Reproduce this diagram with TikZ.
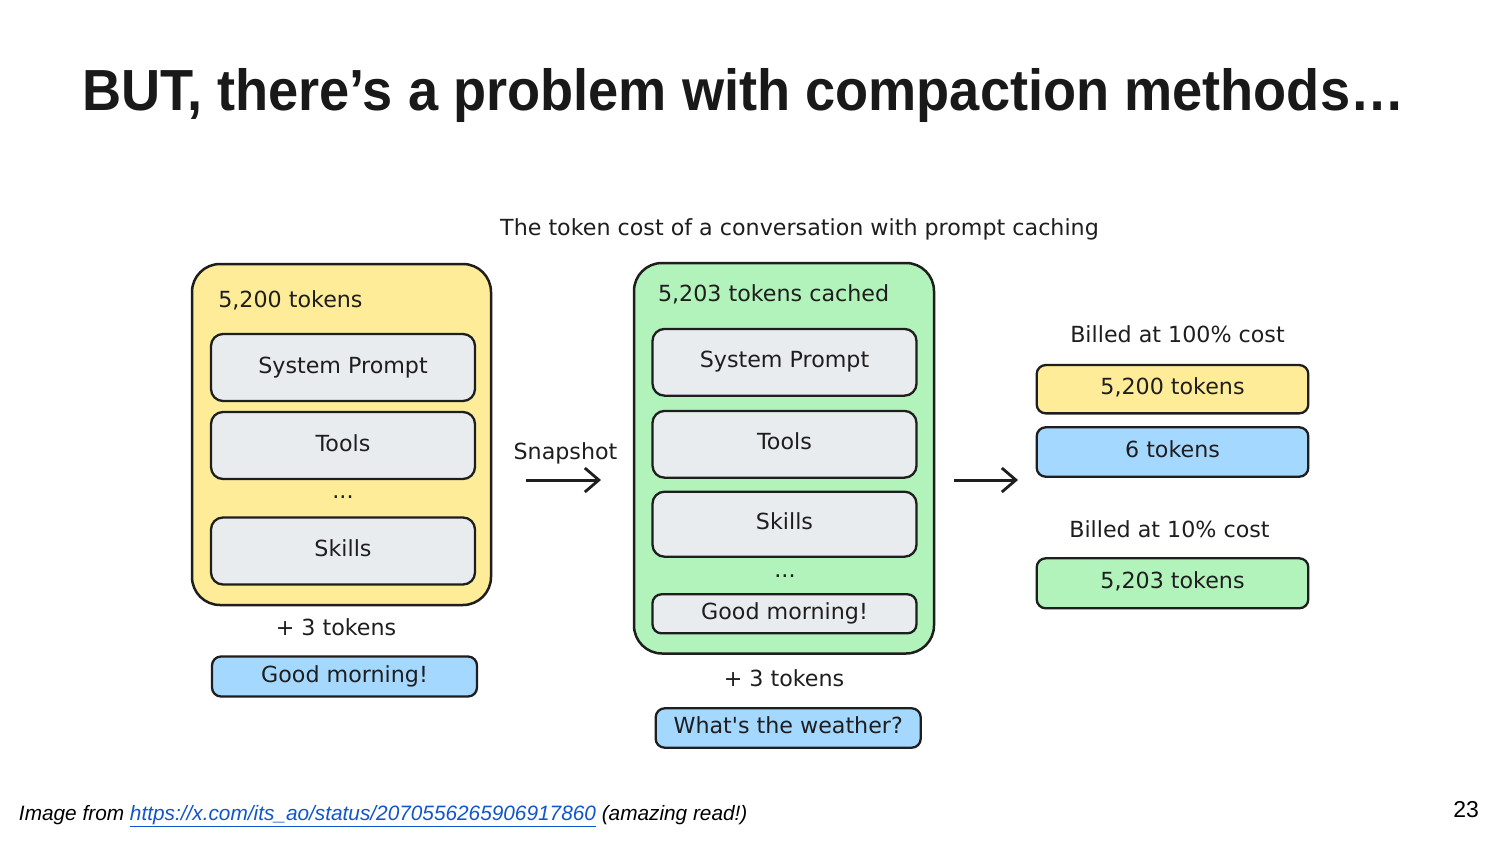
\documentclass[tikz,border=0pt]{standalone}
\usepackage{fontspec}
\setmainfont{DejaVu Sans}
\newfontfamily\rawfont{DejaVu Sans}
\newfontfamily\titlefont[FakeStretch=0.934]{Liberation Sans}
\newfontfamily\footfont{Liberation Sans}
\usetikzlibrary{arrows.meta}
\definecolor{ink}{HTML}{1E1E1E}
\definecolor{yel}{HTML}{FFEC99}
\definecolor{grn}{HTML}{B2F2BB}
\definecolor{blu}{HTML}{A5D8FF}
\definecolor{gry}{HTML}{E9ECEF}
\definecolor{linkblue}{HTML}{1155CC}
\begin{document}
\begin{tikzpicture}[x=1pt,y=-1pt,
  every node/.style={inner sep=0pt, outer sep=0pt, text=ink},
  dfont/.style={font=\fontsize{22.2}{26}\selectfont},
  outerbox/.style={draw=ink, line width=2.5pt, rounded corners=28pt},
  card/.style={draw=ink, line width=2.3pt, rounded corners=12pt, dfont,
               text height=16pt, text depth=5pt, align=center},
  pill/.style={card, rounded corners=9pt},
  lbl/.style={dfont, anchor=base},
  arr/.style={draw=ink, line width=3pt,
              -{Straight Barb[length=14pt,width=24pt,line width=2.8pt]}}
]
\useasboundingbox (0,0) rectangle (1500,844);
\fill[white] (0,0) rectangle (1500,844);

% title
\node[anchor=base west, text=black!90, font=\titlefont\bfseries\fontsize{58}{64}\selectfont]
  (title) at (82,110) {BUT, there’s a problem with compaction methods…};

% subtitle
\node[lbl] (sub) at (799.5,235) {The token cost of a conversation with prompt caching};

% ---------- left (yellow) ----------
\node[outerbox, fill=yel, minimum width=299pt, minimum height=341pt] (Y) at (341.5,434.5) {};
\node[lbl, anchor=base west] (Ylbl) at (218.3,307.3) {5,200 tokens};
\node[card, fill=gry, minimum width=264pt, minimum height=67pt] (Ysp) at (343,367.5) {System Prompt};
\node[card, fill=gry, minimum width=264pt, minimum height=67pt] (Ytools) at (343,445.5) {Tools};
\node[lbl] (Ydots) at (343,498) {...};
\node[card, fill=gry, minimum width=264pt, minimum height=67pt] (Yskills) at (343,551) {Skills};
\node[lbl] (Yplus) at (336,635) {+ 3 tokens};
\node[pill, fill=blu, minimum width=265pt, minimum height=40pt] (Ygm) at (344.5,676.5) {Good morning!};

% snapshot arrow
\node[lbl] (snap) at (565.5,459) {Snapshot};
\coordinate (a1s) at (526,480);
\coordinate (a1e) at (601,480);
\draw[arr] (a1s) -- (a1e);

% ---------- middle (green) ----------
\node[outerbox, fill=grn, minimum width=300pt, minimum height=390.5pt] (G) at (784,458.25) {};
\node[lbl, anchor=base west] (Glbl) at (658,301.7) {5,203 tokens cached};
\node[card, fill=gry, minimum width=264pt, minimum height=66.7pt] (Gsp) at (784.5,362.3) {System Prompt};
\node[card, fill=gry, minimum width=264pt, minimum height=66.7pt] (Gtools) at (784.5,444.3) {Tools};
\node[card, fill=gry, minimum width=264pt, minimum height=65pt] (Gskills) at (784.5,524.2) {Skills};
\node[lbl] (Gdots) at (785,577) {...};
\node[pill, fill=gry, minimum width=264pt, minimum height=39pt] (Ggm) at (784.5,613.8) {Good morning!};
\node[lbl] (Gplus) at (784,686.7) {+ 3 tokens};
\node[pill, fill=blu, minimum width=265pt, minimum height=39.4pt] (Gw) at (788.2,728) {What{\rawfont '}s the weather?};

% second arrow
\coordinate (a2s) at (954,480);
\coordinate (a2e) at (1018,480);
\draw[arr] (a2s) -- (a2e);

% ---------- right (billing) ----------
\node[lbl] (b100) at (1177.5,342.3) {Billed at 100\% cost};
\node[pill, fill=yel, minimum width=271.6pt, minimum height=48.3pt] (R1) at (1172.5,389.2) {5,200 tokens};
\node[pill, fill=blu, minimum width=271.6pt, minimum height=49.4pt] (R2) at (1172.5,452) {6 tokens};
\node[lbl] (b10) at (1169.5,537.3) {Billed at 10\% cost};
\node[pill, fill=grn, minimum width=271.6pt, minimum height=50pt] (R3) at (1172.5,583.3) {5,203 tokens};

% footer
\node[anchor=base west, text=black, font=\footfont\itshape\fontsize{20.8}{24}\selectfont] (foot) at (19,820)
  {Image from \textcolor{linkblue}{\underline{https://x.com/its\_ao/status/2070556265906917860}} (amazing read!)};
\node[anchor=base east, text=black, font=\footfont\fontsize{23}{26}\selectfont] (pg) at (1479,817.5) {23};
\end{tikzpicture}
\end{document}
